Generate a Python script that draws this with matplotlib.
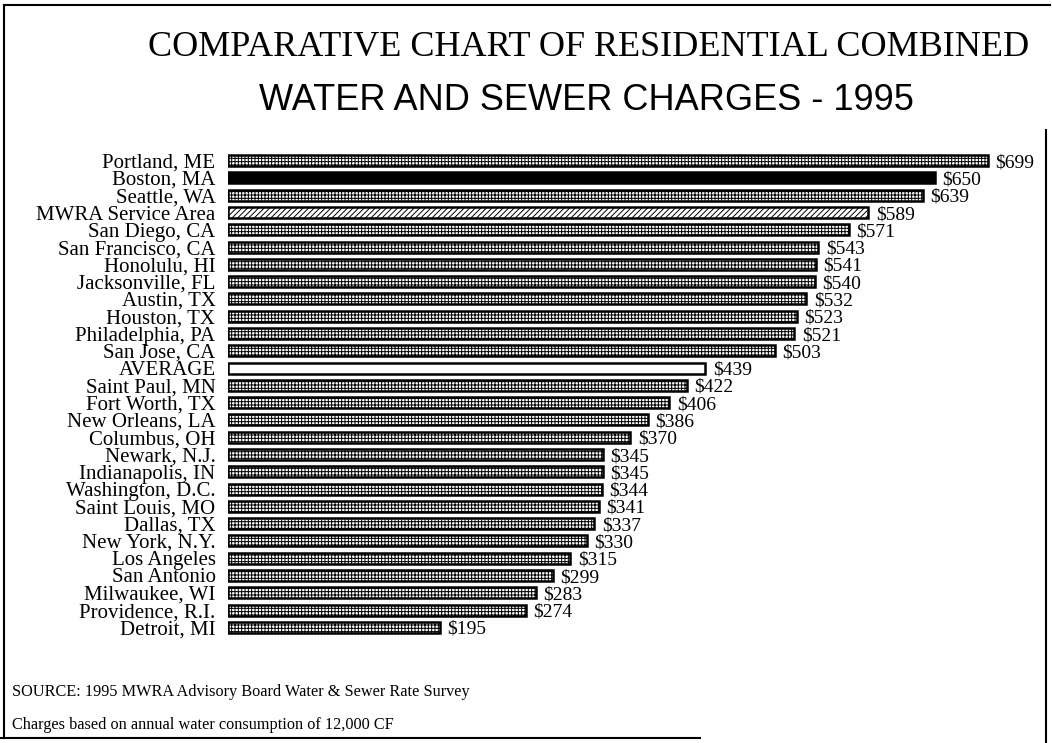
import matplotlib
matplotlib.use("Agg")
import matplotlib.pyplot as plt
from matplotlib.lines import Line2D

cities = ["Portland, ME", "Boston, MA", "Seattle, WA", "MWRA Service Area",
          "San Diego, CA", "San Francisco, CA", "Honolulu, HI", "Jacksonville, FL",
          "Austin, TX", "Houston, TX", "Philadelphia, PA", "San Jose, CA",
          "AVERAGE", "Saint Paul, MN", "Fort Worth, TX", "New Orleans, LA",
          "Columbus, OH", "Newark, N.J.", "Indianapolis, IN", "Washington, D.C.",
          "Saint Louis, MO", "Dallas, TX", "New York, N.Y.", "Los Angeles",
          "San Antonio", "Milwaukee, WI", "Providence, R.I.", "Detroit, MI"]
charges = [699, 650, 639, 589, 571, 543, 541, 540, 532, 523, 521, 503,
           439, 422, 406, 386, 370, 345, 345, 344, 341, 337, 330, 315,
           299, 283, 274, 195]
value_labels = ["$%d" % v for v in charges]

W, H = 1052, 743
plt.rcParams['hatch.linewidth'] = 0.7
fig = plt.figure(figsize=(W / 100, H / 100), dpi=100)

ax_left, ax_right = 228, 1028
ax_top, ax_bot = 152, 636
ax = fig.add_axes([ax_left / W, 1 - ax_bot / H, (ax_right - ax_left) / W, (ax_bot - ax_top) / H])
px_per_unit = 1.087
ax.set_xlim(0, (ax_right - ax_left) / px_per_unit)
ax.set_ylim(len(cities) - 0.5, -0.5)

serif = ["Liberation Serif", "DejaVu Serif"]
sans = ["Liberation Sans", "DejaVu Sans"]

for i, (c, v) in enumerate(zip(cities, charges)):
    if c == "Boston, MA":
        fc, hatch = "black", None
    elif c == "MWRA Service Area":
        fc, hatch = "white", "//////"
    elif c == "AVERAGE":
        fc, hatch = "white", None
    else:
        fc, hatch = "white", "+++++"
    ax.barh(i, v, height=0.64, color=fc, edgecolor="black", linewidth=1.8, hatch=hatch)
    ax.text(v + 7, i + 0.12, value_labels[i], fontsize=14, family=serif,
            ha="left", va="center", clip_on=False)

ax.set_yticks(range(len(cities)))
ax.set_yticklabels(cities, fontsize=15, family=serif)
ax.tick_params(axis="y", length=0, pad=9)
ax.set_xticks([])
for s in ax.spines.values():
    s.set_visible(False)

fig.text(589 / W, 1 - 48 / H, "COMPARATIVE CHART OF RESIDENTIAL COMBINED",
         fontsize=26, family=serif, ha="center", va="center")
fig.text(586 / W, 1 - 101 / H, "WATER AND SEWER CHARGES - 1995",
         fontsize=26, family=sans, ha="center", va="center")

fig.text(12 / W, 1 - 692 / H, "SOURCE: 1995 MWRA Advisory Board Water & Sewer Rate Survey",
         fontsize=11.7, family=serif, ha="left", va="center")
fig.text(12 / W, 1 - 725 / H, "Charges based on annual water consumption of 12,000 CF",
         fontsize=11.7, family=serif, ha="left", va="center")

# page border
def fl(x0, y0, x1, y1, lw=1.5):
    fig.add_artist(Line2D([x0 / W, x1 / W], [1 - y0 / H, 1 - y1 / H],
                          color="black", linewidth=lw))
fl(4, 5, 1050, 5)
fl(4, 5, 4, 738)
fl(0, 738, 700, 738)
fl(1046, 130, 1046, 743)

fig.savefig("out.png", dpi=100)
